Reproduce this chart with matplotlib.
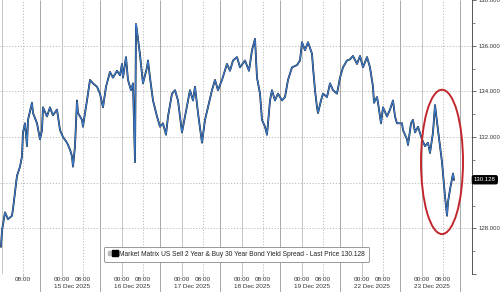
import matplotlib
matplotlib.use("Agg")
import matplotlib.pyplot as plt
from matplotlib.patches import Ellipse
from matplotlib.legend_handler import HandlerTuple
from matplotlib.lines import Line2D

plt.rcParams['font.family'] = ['Liberation Sans', 'DejaVu Sans']

# trading hours since session-0 start (each session = 23 h), spread value
hours = [8.05, 8.43, 9.58, 10.73, 12.27, 12.65, 13.42, 14.18, 15.33, 16.10,
         16.48, 17.25, 18.02, 18.40, 19.93, 20.32, 21.85, 23.0, 23.77, 24.15,
         25.68, 26.83, 27.98, 29.52, 29.90, 30.67, 31.82, 33.35, 34.5, 35.27,
         35.65, 36.42, 37.18, 37.57, 39.10, 39.48, 40.25, 41.02, 42.17, 43.32,
         44.85, 46.0, 47.15, 48.30, 49.83, 50.98, 52.52, 53.67, 54.43, 54.82,
         55.97, 56.73, 57.88, 58.65, 59.42, 59.80, 60.18, 61.33, 62.48, 64.02,
         64.40, 65.17, 66.32, 67.85, 69.0, 70.15, 71.30, 72.07, 73.60, 74.75,
         75.90, 77.43, 78.58, 79.73, 80.50, 81.65, 82.42, 83.57, 85.10, 86.25,
         87.40, 88.93, 90.08, 91.23, 92.77, 94.68, 95.83, 96.98, 98.52, 99.67,
         101.58, 103.12, 104.27, 105.42, 106.18, 107.33, 108.10, 109.25, 110.02, 110.40,
         111.17, 111.93, 113.08, 114.23, 115.77, 116.92, 118.07, 119.60, 121.52, 122.67,
         123.43, 124.58, 125.73, 127.27, 127.65, 128.42, 129.18, 129.57, 130.72, 131.48,
         133.02, 134.17, 135.32, 136.85, 138.0, 139.15, 140.68, 141.83, 142.98, 144.52,
         145.67, 146.82, 148.35, 149.5, 150.65, 151.03, 152.18, 152.57, 153.72, 154.48,
         156.02, 157.17, 158.32, 159.08, 159.85, 161.77, 162.15, 163.68, 164.07, 165.22,
         165.98, 166.75, 167.90, 169.43, 170.58, 171.73, 172.50, 173.65, 174.42, 175.57,
         177.10, 178.25, 179.02, 179.40, 180.17, 181.32, 181.70]
spread = [127.2, 127.9, 128.7, 128.4, 128.55, 128.85, 129.6, 130.3, 130.7, 131.15,
          132.2, 132.6, 131.6, 132.75, 133.5, 133.05, 132.6, 131.9, 132.3, 133.3,
          132.9, 133.3, 132.95, 133.2, 132.9, 132.3, 132.0, 131.75, 131.45, 131.15,
          130.7, 131.6, 133.6, 133.05, 132.75, 132.45, 133.05, 133.6, 134.5, 134.35,
          134.2, 133.9, 133.3, 134.2, 134.85, 134.6, 134.9, 134.7, 135.2, 134.6,
          135.5, 134.5, 134.05, 134.35, 130.9, 136.95, 136.65, 135.6, 134.35, 135.05,
          135.35, 134.6, 133.6, 132.9, 132.45, 132.6, 132.1, 132.9, 133.9, 134.05,
          133.6, 132.2, 132.9, 133.6, 134.05, 133.6, 134.2, 133.05, 131.75, 132.75,
          133.3, 134.05, 134.5, 134.05, 134.5, 135.2, 134.9, 135.35, 135.5, 135.05,
          135.35, 134.9, 135.8, 136.3, 134.6, 133.9, 132.75, 132.45, 132.1, 132.6,
          133.6, 134.05, 133.6, 133.9, 133.6, 133.75, 134.5, 135.05, 135.15, 135.35,
          136.15, 135.8, 136.15, 135.65, 135.05, 134.05, 133.3, 133.05, 133.6, 133.9,
          133.75, 134.35, 134.05, 133.9, 134.6, 135.05, 135.35, 135.4, 135.55, 135.2,
          135.55, 135.05, 135.5, 135.05, 134.2, 133.5, 133.75, 133.5, 132.6, 133.3,
          132.9, 133.2, 133.6, 132.9, 132.6, 132.6, 132.3, 131.9, 131.65, 132.6,
          132.75, 132.2, 132.45, 131.9, 131.6, 131.75, 131.3, 132.2, 133.4, 132.3,
          130.9, 129.4, 128.55, 129.15, 129.7, 130.4, 130.128]

last_price = 130.128
session_len = 23
day_labels = ['', '15 Dec 2025', '16 Dec 2025', '17 Dec 2025', '18 Dec 2025',
              '19 Dec 2025', '22 Dec 2025', '23 Dec 2025']
y_ticks = [126, 128, 130, 132, 134, 136, 138]
y_labels = ['', '128.000', '', '132.000', '134.000', '136.000', '138.000']
legend_text = 'Market Matrix US Sell 2 Year & Buy 30 Year Bond Yield Spread - Last Price 130.128'

fig = plt.figure(figsize=(5, 2.92), dpi=100)
ax = fig.add_axes([0.0, 0.0616, 0.944, 0.9384])

# grid
for k in range(len(day_labels) + 1):
    s = k * session_len
    ax.axvline(s + 8.3, color='#c4c4c4', lw=0.7, zorder=0)
    ax.axvline(s + 16.3, color='#b4b4b4', lw=0.6, ls=(0, (1.5, 2)), zorder=0)
    ax.vlines(s, -0.07, 1, transform=ax.get_xaxis_transform(),
              color='#a8a8a8', lw=0.7, clip_on=False, zorder=0)
for v in range(128, 138, 2):
    ax.axhline(v, color='#b4b4b4', lw=0.6, ls=(0, (1.5, 2)), zorder=0)

ax.plot(hours, spread, color='#1a1a1a', lw=1.3, zorder=3)
ax.plot(hours, spread, color='#3a78c8', lw=0.9, zorder=4)

ax.add_patch(Ellipse((177.1, 130.91), 16.1, 6.32, fill=False,
                     edgecolor='#c1272d', lw=1.4, zorder=5))

ax.set_xlim(7.67, 188.6)
ax.set_ylim(126, 138)

# x ticks
xt, xl = [], []
for k in range(len(day_labels)):
    s = k * session_len
    if k > 0:
        xt.append(s + 8.3)
        xl.append('00:00')
    xt.append(s + 16.3)
    xl.append('08:00')
ax.set_xticks(xt)
ax.set_xticklabels(xl, fontsize=4.6, color='#333333')
ax.tick_params(axis='x', length=1.5, width=0.5, color='#888888', pad=0.8)
for k, lab in enumerate(day_labels):
    if lab:
        ax.text(k * session_len + 12.3, -0.047, lab, transform=ax.get_xaxis_transform(),
                ha='center', va='center', fontsize=4.6, color='#333333')

# y axis on the right
ax.yaxis.tick_right()
ax.set_yticks(y_ticks)
ax.set_yticklabels(y_labels, fontsize=4.3, color='#333333')
ax.set_yticks(range(127, 139, 2), minor=True)
ax.tick_params(axis='y', which='major', length=3, width=0.6, color='#555555', pad=1.5)
ax.tick_params(axis='y', which='minor', length=2, width=0.5, color='#555555')
for sp in ['top', 'left', 'bottom']:
    ax.spines[sp].set_visible(False)
ax.spines['right'].set_color('#555555')
ax.spines['right'].set_linewidth(0.7)

ax.text(1.004, last_price, '%.3f' % last_price, transform=ax.get_yaxis_transform(),
        ha='left', va='center', fontsize=4.3, color='white',
        bbox=dict(boxstyle='round,pad=0.25', fc='black', ec='black'), clip_on=False)

gray_sq = Line2D([], [], marker='s', color='#bbbbbb', ls='', markersize=2.5)
black_sq = Line2D([], [], marker='s', color='black', ls='', markersize=4)
leg = ax.legend([(gray_sq, black_sq)], [legend_text], loc='center',
                bbox_to_anchor=(0.501, 0.073),
                handler_map={tuple: HandlerTuple(ndivide=None, pad=0.2)},
                fontsize=4.8, handlelength=1.4, handletextpad=0.3, borderpad=0.6,
                frameon=True, fancybox=True, edgecolor='#888888', framealpha=1)
leg.get_frame().set_linewidth(0.6)
for t in leg.get_texts():
    t.set_color('#222222')

fig.savefig('out.png', dpi=100)
